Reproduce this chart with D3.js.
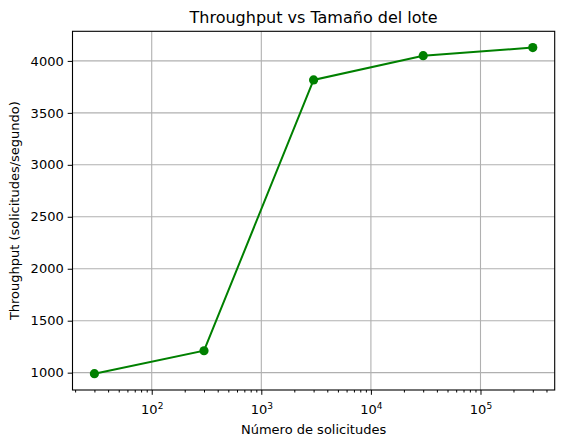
<!DOCTYPE html>
<html>
<head>
<meta charset="utf-8">
<script src="https://cdn.jsdelivr.net/npm/d3@7"></script>
<style>
  body { margin: 0; background: #fff; }
  text { font-family: "DejaVu Sans", sans-serif; fill: #000; }
</style>
</head>
<body>
<div id="chart"></div>
<script>
// data
var batchSizes = [30, 300, 3000, 30000, 300000];
var throughput = [990, 1211, 3817, 4050, 4128];
var yTicks = [1000, 1500, 2000, 2500, 3000, 3500, 4000];
var xMajor = [100, 1000, 10000, 100000];

var W = 564, H = 446;
var margin = {top: 31.3, right: 9.3, bottom: 56, left: 72.5};
var width = W - margin.left - margin.right,
    height = H - margin.top - margin.bottom;

// matplotlib-like 5% margins (log space for x)
var lx = batchSizes.map(function(d) { return Math.log10(d); });
var lxMin = d3.min(lx), lxMax = d3.max(lx), lpad = (lxMax - lxMin) * 0.05;
var yMin = d3.min(throughput), yMax = d3.max(throughput), ypad = (yMax - yMin) * 0.05;

var x = d3.scaleLog()
    .domain([Math.pow(10, lxMin - lpad), Math.pow(10, lxMax + lpad)])
    .range([0, width]);
var y = d3.scaleLinear()
    .domain([yMin - ypad, yMax + ypad])
    .range([height, 0]);

var svg = d3.select('#chart').append('svg')
    .attr('width', W)
    .attr('height', H);

var g = svg.append('g')
    .attr('transform', 'translate(' + margin.left + ',' + margin.top + ')');

// grid
g.selectAll('.vgrid').data(xMajor).enter().append('line')
    .attr('x1', function(d) { return x(d); })
    .attr('x2', function(d) { return x(d); })
    .attr('y1', 0).attr('y2', height)
    .attr('stroke', '#b0b0b0').attr('stroke-width', 1.1);
g.selectAll('.hgrid').data(yTicks).enter().append('line')
    .attr('x1', 0).attr('x2', width)
    .attr('y1', function(d) { return y(d); })
    .attr('y2', function(d) { return y(d); })
    .attr('stroke', '#b0b0b0').attr('stroke-width', 1.1);

// x axis: major + minor ticks
var minor = x.ticks().filter(function(d) {
    return xMajor.indexOf(d) < 0 && Math.abs(Math.log10(d) - Math.round(Math.log10(d))) > 1e-9;
});
var xAxisG = g.append('g').attr('transform', 'translate(0,' + height + ')');
xAxisG.call(d3.axisBottom(x).tickValues(minor).tickSize(2.5).tickFormat(''))
    .call(function(s) { s.select('.domain').remove(); });
var xMajorG = g.append('g').attr('transform', 'translate(0,' + height + ')');
xMajorG.call(d3.axisBottom(x).tickValues(xMajor).tickSize(4.8).tickPadding(5).tickFormat(''))
    .call(function(s) { s.select('.domain').remove(); });
xMajorG.selectAll('.tick').append('text')
    .attr('y', 24)
    .attr('text-anchor', 'middle')
    .style('font-size', '13px')
    .each(function(d) {
        var t = d3.select(this);
        t.append('tspan').text('10');
        t.append('tspan').attr('dy', -5).style('font-size', '9px')
            .text(Math.round(Math.log10(d)));
    });
g.selectAll('.tick line').attr('stroke', '#000').attr('stroke-width', 1);

// y axis
var yAxisG = g.append('g')
    .call(d3.axisLeft(y).tickValues(yTicks).tickSize(4.8).tickPadding(4).tickFormat(d3.format('d')));
yAxisG.select('.domain').remove();
yAxisG.selectAll('.tick line').attr('stroke', '#000').attr('stroke-width', 1);
yAxisG.selectAll('.tick text')
    .style('font-size', '13px')
    .style('font-family', '"DejaVu Sans", sans-serif')
    .attr('fill', '#000');

// frame
g.append('rect')
    .attr('width', width).attr('height', height)
    .attr('fill', 'none').attr('stroke', '#000').attr('stroke-width', 1.1);

// series
var pts = batchSizes.map(function(d, i) { return [d, throughput[i]]; });
g.append('path')
    .datum(pts)
    .attr('fill', 'none')
    .attr('stroke', 'green')
    .attr('stroke-width', 2)
    .attr('d', d3.line().x(function(d) { return x(d[0]); }).y(function(d) { return y(d[1]); }));
g.selectAll('.dot').data(pts).enter().append('circle')
    .attr('cx', function(d) { return x(d[0]); })
    .attr('cy', function(d) { return y(d[1]); })
    .attr('r', 4.6)
    .attr('fill', 'green');

// labels
svg.append('text')
    .attr('x', margin.left + width / 2).attr('y', 23)
    .attr('text-anchor', 'middle')
    .style('font-size', '16px')
    .text('Throughput vs Tamaño del lote');
svg.append('text')
    .attr('x', margin.left + width / 2).attr('y', 434)
    .attr('text-anchor', 'middle')
    .style('font-size', '13px')
    .text('Número de solicitudes');
svg.append('text')
    .attr('transform', 'translate(19,' + (margin.top + height / 2) + ') rotate(-90)')
    .attr('text-anchor', 'middle')
    .style('font-size', '13px')
    .text('Throughput (solicitudes/segundo)');
</script>
</body>
</html>
